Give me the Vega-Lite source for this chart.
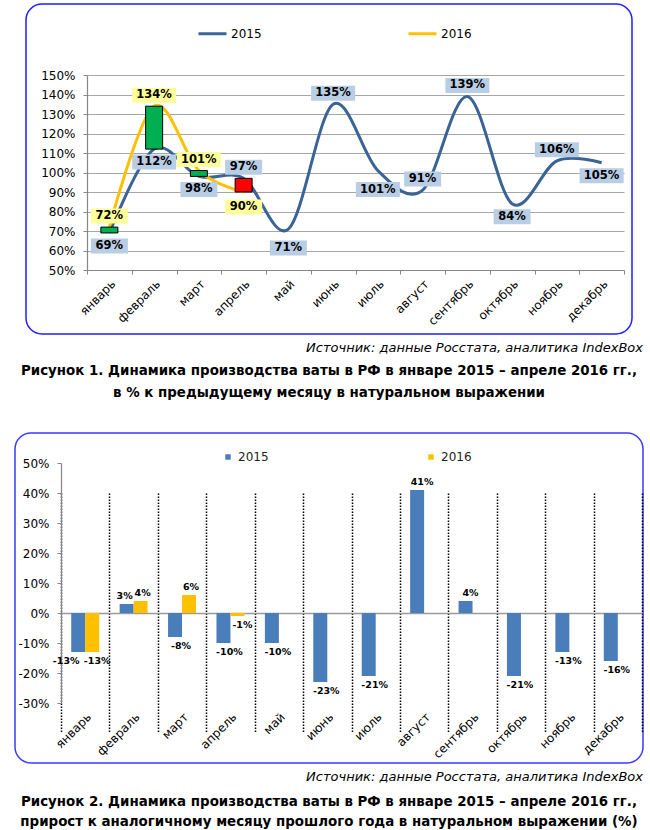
{
  "$schema": "https://vega.github.io/schema/vega-lite/v6.json",
  "background": "white",
  "padding": {"left": 13, "top": 3, "right": 0, "bottom": 0},
  "bounds": "flush",
  "center": true,
  "spacing": 27,
  "config": {
    "font": "DejaVu Sans",
    "locale": {"number": {"decimal": ".", "thousands": ",", "grouping": [3], "currency": ["$", ""], "minus": "-"}},
    "view": {"stroke": null},
    "axis": {"labelFont": "DejaVu Sans", "labelFontSize": 12, "labelColor": "#000000", "title": null, "domainColor": "#868686", "tickColor": "#868686", "domainWidth": 1.2}
  },
  "resolve": {"scale": {"color": "independent", "x": "independent", "y": "independent"}, "legend": {"color": "independent"}},
  "datasets": {
    "top": [
      {"month": "январь", "year": "2015", "value": 0.69},
      {"month": "февраль", "year": "2015", "value": 1.12},
      {"month": "март", "year": "2015", "value": 0.98},
      {"month": "апрель", "year": "2015", "value": 0.97},
      {"month": "май", "year": "2015", "value": 0.71},
      {"month": "июнь", "year": "2015", "value": 1.35},
      {"month": "июль", "year": "2015", "value": 1.01},
      {"month": "август", "year": "2015", "value": 0.91},
      {"month": "сентябрь", "year": "2015", "value": 1.39},
      {"month": "октябрь", "year": "2015", "value": 0.84},
      {"month": "ноябрь", "year": "2015", "value": 1.06},
      {"month": "декабрь", "year": "2015", "value": 1.05},
      {"month": "январь", "year": "2016", "value": 0.72},
      {"month": "февраль", "year": "2016", "value": 1.34},
      {"month": "март", "year": "2016", "value": 1.01},
      {"month": "апрель", "year": "2016", "value": 0.90}
    ],
    "bottom": [
      {"month": "январь", "year": "2015", "value": -0.13},
      {"month": "февраль", "year": "2015", "value": 0.03},
      {"month": "март", "year": "2015", "value": -0.08},
      {"month": "апрель", "year": "2015", "value": -0.10},
      {"month": "май", "year": "2015", "value": -0.10},
      {"month": "июнь", "year": "2015", "value": -0.23},
      {"month": "июль", "year": "2015", "value": -0.21},
      {"month": "август", "year": "2015", "value": 0.41},
      {"month": "сентябрь", "year": "2015", "value": 0.04},
      {"month": "октябрь", "year": "2015", "value": -0.21},
      {"month": "ноябрь", "year": "2015", "value": -0.13},
      {"month": "декабрь", "year": "2015", "value": -0.16},
      {"month": "январь", "year": "2016", "value": -0.13},
      {"month": "февраль", "year": "2016", "value": 0.04},
      {"month": "март", "year": "2016", "value": 0.06},
      {"month": "апрель", "year": "2016", "value": -0.01}
    ]
  },
  "vconcat": [
    {
      "width": 606,
      "height": 330,
      "view": {"stroke": "#1f1fff", "strokeWidth": 1.5, "cornerRadius": 16},
      "data": {"name": "top"},
      "encoding": {
        "x": {"field": "month", "type": "nominal",
          "scale": {"domain": ["январь","февраль","март","апрель","май","июнь","июль","август","сентябрь","октябрь","ноябрь","декабрь"], "range": [61, 598], "paddingInner": 0, "paddingOuter": 0},
          "axis": {"orient": "bottom", "offset": -64, "labelAngle": -45, "tickBand": "extent", "tickSize": 4, "labelPadding": 4, "grid": false}},
        "y": {"field": "value", "type": "quantitative",
          "scale": {"domain": [0.5, 1.5], "range": [266, 71], "nice": false, "zero": false},
          "axis": {"offset": -61, "values": [0.5,0.6,0.7,0.8,0.9,1.0,1.1,1.2,1.3,1.4,1.5], "format": ".0%", "tickSize": 4, "labelPadding": 8, "grid": true, "gridColor": "#a6a6a6", "gridWidth": 1.2}}
      },
      "layer": [
        {
          "mark": {"type": "line", "interpolate": "cardinal", "strokeWidth": 3},
          "encoding": {
            "color": {"field": "year", "type": "nominal",
              "scale": {"domain": ["2015", "2016"], "range": ["#3b6496", "#ffc000"]},
              "legend": {"orient": "none", "legendX": 171, "legendY": 14, "direction": "horizontal", "title": null, "symbolType": "stroke", "symbolStrokeWidth": 3, "symbolSize": 784, "labelFontSize": 12, "labelFont": "DejaVu Sans", "labelColor": "#000000", "labelOffset": 3, "columnPadding": 140, "padding": 0}}
          }
        },
        {
          "transform": [
            {"pivot": "year", "value": "value", "groupby": ["month"]},
            {"filter": "isValid(datum['2016'])"}
          ],
          "mark": {"type": "bar", "width": 17, "stroke": "#000000", "strokeWidth": 1},
          "encoding": {
            "y": {"field": "2015", "type": "quantitative"},
            "y2": {"field": "2016"},
            "fill": {"condition": {"test": "datum['2016'] >= datum['2015']", "value": "#00b050"}, "value": "#ff0000"}
          }
        },
        {
          "transform": [{"filter": {"and": [{"field": "year", "equal": "2015"}, {"field": "month", "oneOf": ["январь","февраль","март","октябрь","декабрь"]}]}}],
          "layer": [
            {"mark": {"type": "point", "filled": true, "opacity": 1, "size": 400, "yOffset": 13, "color": "#b9cde5", "strokeWidth": 0},
             "encoding": {"shape": {"condition": {"test": "datum.value >= 1", "value": "M-2.2,-0.75H2.2V0.75H-2.2Z"}, "value": "M-1.85,-0.75H1.85V0.75H-1.85Z"}}},
            {"mark": {"type": "text", "yOffset": 13, "fontWeight": "bold", "fontSize": 11.5, "color": "#000000"},
             "encoding": {"text": {"field": "value", "type": "quantitative", "format": ".0%"}}}
          ]
        },
        {
          "transform": [{"filter": {"and": [{"field": "year", "equal": "2015"}, {"field": "month", "oneOf": ["май","июль"]}]}}],
          "layer": [
            {"mark": {"type": "point", "filled": true, "opacity": 1, "size": 400, "yOffset": 19, "color": "#b9cde5", "strokeWidth": 0},
             "encoding": {"shape": {"condition": {"test": "datum.value >= 1", "value": "M-2.2,-0.75H2.2V0.75H-2.2Z"}, "value": "M-1.85,-0.75H1.85V0.75H-1.85Z"}}},
            {"mark": {"type": "text", "yOffset": 19, "fontWeight": "bold", "fontSize": 11.5, "color": "#000000"},
             "encoding": {"text": {"field": "value", "type": "quantitative", "format": ".0%"}}}
          ]
        },
        {
          "transform": [{"filter": {"and": [{"field": "year", "equal": "2015"}, {"field": "month", "oneOf": ["апрель","июнь","август","сентябрь","ноябрь"]}]}}],
          "layer": [
            {"mark": {"type": "point", "filled": true, "opacity": 1, "size": 400, "yOffset": -11, "color": "#b9cde5", "strokeWidth": 0},
             "encoding": {"shape": {"condition": {"test": "datum.value >= 1", "value": "M-2.2,-0.75H2.2V0.75H-2.2Z"}, "value": "M-1.85,-0.75H1.85V0.75H-1.85Z"}}},
            {"mark": {"type": "text", "yOffset": -11, "fontWeight": "bold", "fontSize": 11.5, "color": "#000000"},
             "encoding": {"text": {"field": "value", "type": "quantitative", "format": ".0%"}}}
          ]
        },
        {
          "transform": [{"filter": {"and": [{"field": "year", "equal": "2016"}, {"field": "month", "oneOf": ["январь","февраль","март"]}]}}],
          "layer": [
            {"mark": {"type": "point", "filled": true, "opacity": 1, "size": 400, "yOffset": -11, "color": "#ffff99", "strokeWidth": 0},
             "encoding": {"shape": {"condition": {"test": "datum.value >= 1", "value": "M-2.2,-0.75H2.2V0.75H-2.2Z"}, "value": "M-1.85,-0.75H1.85V0.75H-1.85Z"}}},
            {"mark": {"type": "text", "yOffset": -11, "fontWeight": "bold", "fontSize": 11.5, "color": "#000000"},
             "encoding": {"text": {"field": "value", "type": "quantitative", "format": ".0%"}}}
          ]
        },
        {
          "transform": [{"filter": {"and": [{"field": "year", "equal": "2016"}, {"field": "month", "oneOf": ["апрель"]}]}}],
          "layer": [
            {"mark": {"type": "point", "filled": true, "opacity": 1, "size": 400, "yOffset": 15, "color": "#ffff99", "strokeWidth": 0},
             "encoding": {"shape": {"condition": {"test": "datum.value >= 1", "value": "M-2.2,-0.75H2.2V0.75H-2.2Z"}, "value": "M-1.85,-0.75H1.85V0.75H-1.85Z"}}},
            {"mark": {"type": "text", "yOffset": 15, "fontWeight": "bold", "fontSize": 11.5, "color": "#000000"},
             "encoding": {"text": {"field": "value", "type": "quantitative", "format": ".0%"}}}
          ]
        }
      ]
    },
    {
      "width": 628,
      "height": 45,
      "title": {"text": "Источник: данные Росстата, аналитика IndexBox", "anchor": "end", "orient": "top", "font": "DejaVu Sans", "fontStyle": "italic", "fontWeight": "normal", "fontSize": 13, "offset": 6, "color": "#000000"},
      "data": {"values": [{"caption": "Рисунок 1. Динамика производства ваты в РФ в январе 2015 – апреле 2016 гг.,\nв % к предыдущему месяцу в натуральном выражении"}]},
      "mark": {"type": "text", "lineBreak": "\n", "fontWeight": "bold", "fontSize": 13.4, "lineHeight": 22, "align": "center", "baseline": "middle", "dy": -13, "color": "#000000"},
      "encoding": {"text": {"field": "caption"}}
    },
    {
      "width": 628,
      "height": 330,
      "view": {"stroke": "#3a3aff", "strokeWidth": 1.5, "cornerRadius": 16},
      "data": {"name": "bottom"},
      "encoding": {
        "x": {"field": "month", "type": "nominal",
          "scale": {"domain": ["январь","февраль","март","апрель","май","июнь","июль","август","сентябрь","октябрь","ноябрь","декабрь"], "range": [46, 627], "paddingInner": 0, "paddingOuter": 0},
          "axis": {"orient": "bottom", "offset": -60, "labelAngle": -45, "tickBand": "extent", "ticks": false, "domain": false, "labelPadding": 8, "grid": true, "gridDash": [1.5, 1.5], "gridColor": "#000000", "gridWidth": 1.5}},
        "xOffset": {"field": "year", "type": "nominal", "scale": {"domain": ["2015", "2016"], "paddingOuter": 0.73, "paddingInner": 0}},
        "y": {"field": "value", "type": "quantitative",
          "scale": {"domain": [-0.3, 0.5], "range": [270, 30], "nice": false},
          "axis": {"offset": -46, "values": [-0.3,-0.2,-0.1,0,0.1,0.2,0.3,0.4,0.5], "format": ".0%", "tickSize": 4, "labelPadding": 8, "grid": true, "gridColor": "#9a9a9a", "gridWidth": 1.5, "gridOpacity": {"condition": {"test": "datum.value === 0", "value": 1}, "value": 0}}}
      },
      "layer": [
        {
          "mark": {"type": "bar"},
          "encoding": {
            "color": {"field": "year", "type": "nominal",
              "scale": {"domain": ["2015", "2016"], "range": ["#4a7ebb", "#ffc000"]},
              "legend": {"orient": "none", "legendX": 207, "legendY": 18, "direction": "horizontal", "title": null, "symbolType": "square", "symbolSize": 30, "labelFontSize": 12, "labelFont": "DejaVu Sans", "labelColor": "#222222", "labelOffset": 4, "columnPadding": 156, "padding": 0}}
          }
        },
        {
          "transform": [{"filter": {"and": [{"field": "year", "equal": "2015"}, "datum.value >= 0", {"not": {"field": "month", "equal": "февраль"}}]}}],
          "mark": {"type": "text", "baseline": "bottom", "dy": -3, "dx": 5, "fontWeight": "bold", "fontSize": 9.5, "color": "#000000"},
          "encoding": {"text": {"field": "value", "type": "quantitative", "format": ".0%"}}
        },
        {
          "transform": [{"filter": {"and": [{"field": "year", "equal": "2015"}, "datum.value < 0", {"not": {"field": "month", "equal": "январь"}}]}}],
          "mark": {"type": "text", "baseline": "top", "dy": 4, "dx": 6, "fontWeight": "bold", "fontSize": 9.5, "color": "#000000"},
          "encoding": {"text": {"field": "value", "type": "quantitative", "format": ".0%"}}
        },
        {
          "transform": [{"filter": {"and": [{"field": "year", "equal": "2015"}, {"field": "month", "equal": "январь"}]}}],
          "mark": {"type": "text", "baseline": "top", "dy": 4, "dx": -12, "fontWeight": "bold", "fontSize": 9.5, "color": "#000000"},
          "encoding": {"text": {"field": "value", "type": "quantitative", "format": ".0%"}}
        },
        {
          "transform": [{"filter": {"and": [{"field": "year", "equal": "2015"}, {"field": "month", "equal": "февраль"}]}}],
          "mark": {"type": "text", "baseline": "bottom", "dy": -3, "dx": -2, "fontWeight": "bold", "fontSize": 9.5, "color": "#000000"},
          "encoding": {"text": {"field": "value", "type": "quantitative", "format": ".0%"}}
        },
        {
          "transform": [{"filter": {"and": [{"field": "year", "equal": "2016"}, "datum.value >= 0"]}}],
          "mark": {"type": "text", "baseline": "bottom", "dy": -3, "dx": 2, "fontWeight": "bold", "fontSize": 9.5, "color": "#000000"},
          "encoding": {"text": {"field": "value", "type": "quantitative", "format": ".0%"}}
        },
        {
          "transform": [{"filter": {"and": [{"field": "year", "equal": "2016"}, "datum.value < 0"]}}],
          "mark": {"type": "text", "baseline": "top", "dy": 4, "dx": 5, "fontWeight": "bold", "fontSize": 9.5, "color": "#000000"},
          "encoding": {"text": {"field": "value", "type": "quantitative", "format": ".0%"}}
        }
      ]
    },
    {
      "width": 628,
      "height": 40,
      "title": {"text": "Источник: данные Росстата, аналитика IndexBox", "anchor": "end", "orient": "top", "font": "DejaVu Sans", "fontStyle": "italic", "fontWeight": "normal", "fontSize": 13, "offset": 6, "color": "#000000"},
      "data": {"values": [{"caption": "Рисунок 2. Динамика производства ваты в РФ в январе 2015 – апреле 2016 гг.,\nприрост к аналогичному месяцу прошлого года в натуральном выражении (%)"}]},
      "mark": {"type": "text", "lineBreak": "\n", "fontWeight": "bold", "fontSize": 13.4, "lineHeight": 20, "align": "center", "baseline": "middle", "dy": -8, "color": "#000000"},
      "encoding": {"text": {"field": "caption"}}
    }
  ]
}
